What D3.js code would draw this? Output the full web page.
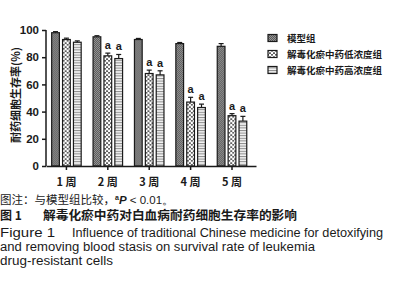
<!DOCTYPE html>
<html lang="zh">
<head>
<meta charset="UTF-8">
<script src="https://cdnjs.cloudflare.com/ajax/libs/d3/7.8.5/d3.min.js"></script>
<style>
  body { margin: 0; background: #fff; }
  svg { display: block; }
</style>
</head>
<body>
<svg id="chart" width="399" height="300"></svg>
<script>
const weeks = ["1 周", "2 周", "3 周", "4 周", "5 周"];
const groups = ["模型组", "解毒化瘀中药低浓度组", "解毒化瘀中药高浓度组"];
const modelVals = [98, 95, 93, 90, 88];
const lowVals = [93, 81, 68, 47, 37];
const highVals = [91, 79, 67, 43, 33];
const modelErr = [0.8, 0.8, 0.8, 0.8, 2];
const lowErr = [1, 2, 2.5, 3.5, 1.5];
const highErr = [1, 3, 3, 2.5, 3.5];
const lowSig = [false, true, true, true, true];
const highSig = [false, true, true, true, true];
const yTicks = [0, 20, 40, 60, 80, 100];

const svg = d3.select("#chart");
const cjk = "'Noto Sans CJK SC', 'Noto Sans', sans-serif";
const latin = "'Liberation Sans', Arial, sans-serif";
const ink = "#1a1a1a";

// patterns
const defs = svg.append("defs");
const pModel = defs.append("pattern").attr("id", "pModel")
    .attr("patternUnits", "userSpaceOnUse").attr("width", 2).attr("height", 2);
pModel.append("rect").attr("width", 2).attr("height", 2).attr("fill", "#959595");
pModel.append("rect").attr("width", 1).attr("height", 1).attr("fill", "#5a5a5a");
pModel.append("rect").attr("x", 1).attr("y", 1).attr("width", 1).attr("height", 1).attr("fill", "#5a5a5a");

const pLow = defs.append("pattern").attr("id", "pLow")
    .attr("patternUnits", "userSpaceOnUse").attr("width", 4).attr("height", 4);
pLow.append("rect").attr("width", 4).attr("height", 4).attr("fill", "#222");
[[2, 1], [0, 3], [4, 3]].forEach(c => {
    pLow.append("circle").attr("cx", c[0]).attr("cy", c[1]).attr("r", 1.4).attr("fill", "#fff");
});

const pHigh = defs.append("pattern").attr("id", "pHigh")
    .attr("patternUnits", "userSpaceOnUse").attr("width", 4).attr("height", 2.6);
pHigh.append("rect").attr("width", 4).attr("height", 2.6).attr("fill", "#f4f4f4");
pHigh.append("rect").attr("width", 4).attr("height", 1).attr("fill", "#8a8a8a");

const fills = ["url(#pModel)", "url(#pLow)", "url(#pHigh)"];

// scales
const x0 = d3.scaleBand().domain(weeks).range([46, 256])
    .paddingInner(0.287).paddingOuter(0.18).align(0.38);
const x1 = d3.scaleBand().domain(groups).range([0, x0.bandwidth()])
    .paddingInner(0.29).paddingOuter(0);
const y = d3.scaleLinear().domain([0, 100]).range([166, 30]);

const rows = weeks.map((w, i) => ({
    week: w,
    bars: [
        { g: groups[0], v: modelVals[i], e: modelErr[i], sig: false, k: 0 },
        { g: groups[1], v: lowVals[i], e: lowErr[i], sig: lowSig[i], k: 1 },
        { g: groups[2], v: highVals[i], e: highErr[i], sig: highSig[i], k: 2 }
    ]
}));

const gw = svg.selectAll("g.week").data(rows).enter().append("g")
    .attr("class", "week")
    .attr("transform", d => `translate(${x0(d.week)},0)`);

const bar = gw.selectAll("g.bar").data(d => d.bars).enter().append("g").attr("class", "bar");

// error bars (upper only)
bar.append("line")
    .attr("x1", d => x1(d.g) + x1.bandwidth() / 2)
    .attr("x2", d => x1(d.g) + x1.bandwidth() / 2)
    .attr("y1", d => y(d.v))
    .attr("y2", d => y(d.v + d.e))
    .attr("stroke", ink).attr("stroke-width", 1.2);
bar.append("line")
    .attr("x1", d => x1(d.g) + x1.bandwidth() / 2 - 2.5)
    .attr("x2", d => x1(d.g) + x1.bandwidth() / 2 + 2.5)
    .attr("y1", d => y(d.v + d.e))
    .attr("y2", d => y(d.v + d.e))
    .attr("stroke", ink).attr("stroke-width", 1.2);

bar.append("rect")
    .attr("x", d => x1(d.g))
    .attr("y", d => y(d.v))
    .attr("width", x1.bandwidth())
    .attr("height", d => y(0) - y(d.v))
    .attr("fill", d => fills[d.k])
    .attr("stroke", ink).attr("stroke-width", 1.2);

bar.filter(d => d.sig).append("text")
    .attr("x", d => x1(d.g) + x1.bandwidth() / 2)
    .attr("y", d => y(d.v + d.e) - 4)
    .attr("text-anchor", "middle")
    .attr("font-family", latin).attr("font-weight", "bold")
    .attr("font-size", 11).attr("fill", ink)
    .text("a");

// axes
const yAxis = svg.append("g").attr("transform", "translate(46,0)")
    .call(d3.axisLeft(y).tickValues(yTicks).tickSize(4).tickPadding(3));
const xAxis = svg.append("g").attr("transform", "translate(0,166)")
    .call(d3.axisBottom(x0).tickSize(4).tickPadding(6).tickSizeOuter(0));
[yAxis, xAxis].forEach(a => {
    a.select(".domain").attr("stroke", ink).attr("stroke-width", 1.5);
    a.selectAll(".tick line").attr("stroke", ink).attr("stroke-width", 1.5);
});
yAxis.select(".domain").attr("d", "M0,166V30");
yAxis.selectAll(".tick text")
    .attr("font-family", latin).attr("font-weight", "bold")
    .attr("font-size", 11.5).attr("fill", ink);
xAxis.selectAll(".tick text")
    .attr("font-family", cjk).attr("font-weight", "bold")
    .attr("font-size", 11).attr("fill", ink).attr("dy", "0.9em");

// y title
svg.append("text")
    .attr("transform", "translate(20,95) rotate(-90)")
    .attr("text-anchor", "middle")
    .attr("font-family", cjk).attr("font-weight", "bold")
    .attr("font-size", 11).attr("fill", ink)
    .text("耐药细胞生存率(%)");

// legend
const legendRows = [38, 54, 70];
const lg = svg.selectAll("g.legend").data(groups).enter().append("g")
    .attr("class", "legend")
    .attr("transform", (d, i) => `translate(268,${legendRows[i]})`);
lg.append("rect").attr("x", 0).attr("y", -3.5).attr("width", 9).attr("height", 7)
    .attr("fill", (d, i) => fills[i]).attr("stroke", ink).attr("stroke-width", 1.2);
lg.append("text").attr("x", 19).attr("y", 3.5)
    .attr("font-family", cjk).attr("font-weight", "bold")
    .attr("font-size", 9.5).attr("fill", ink)
    .text(d => d);

// captions
const note = svg.append("text").attr("x", 0).attr("y", 204)
    .attr("font-family", cjk).attr("font-size", 11.5).attr("fill", ink);
note.append("tspan").text("图注：与模型组比较，");
note.append("tspan").attr("font-family", latin).attr("font-size", 7).attr("dy", -4).attr("font-weight", "bold").text("a");
note.append("tspan").attr("font-family", latin).attr("dy", 4).attr("font-style", "italic").attr("font-weight", "bold").text("P");
note.append("tspan").attr("font-family", latin).text(" < 0.01。");

svg.append("text").attr("x", 0).attr("y", 220)
    .attr("font-family", cjk).attr("font-weight", "bold").attr("font-size", 12).attr("fill", ink)
    .text("图 1");
svg.append("text").attr("x", 43).attr("y", 220)
    .attr("font-family", cjk).attr("font-weight", "bold").attr("font-size", 12.5).attr("fill", ink)
    .attr("textLength", 254).attr("lengthAdjust", "spacingAndGlyphs")
    .text("解毒化瘀中药对白血病耐药细胞生存率的影响");

const capLines = [
    { x: 0, y: 237, t: "Figure 1", w: 55 },
    { x: 72, y: 237, t: "Influence of traditional Chinese medicine for detoxifying", w: 311 },
    { x: 0, y: 251, t: "and removing blood stasis on survival rate of leukemia", w: 315 },
    { x: 0, y: 265, t: "drug-resistant cells", w: 113 }
];
svg.selectAll("text.cap").data(capLines).enter().append("text")
    .attr("class", "cap")
    .attr("x", d => d.x).attr("y", d => d.y)
    .attr("font-family", latin).attr("font-size", 12).attr("fill", ink)
    .attr("textLength", d => d.w).attr("lengthAdjust", "spacingAndGlyphs")
    .text(d => d.t);
</script>
</body>
</html>
